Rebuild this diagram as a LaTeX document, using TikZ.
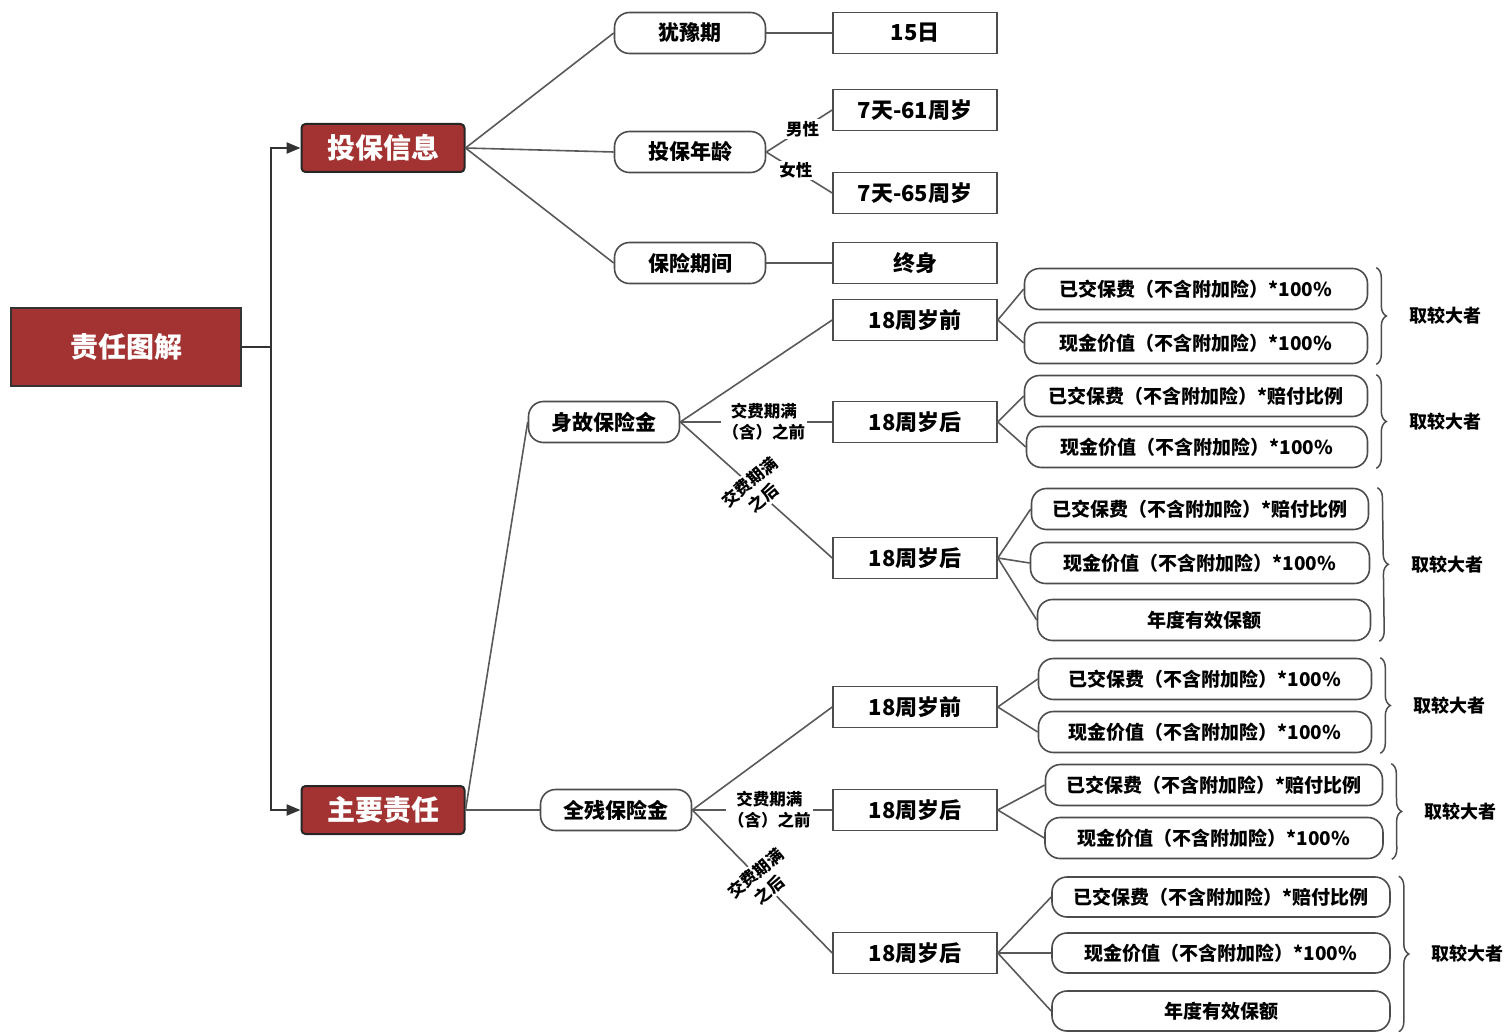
\documentclass[tikz,border=0pt]{standalone}
\usepackage{fontspec}
\setmainfont{Noto Sans CJK SC}
\usetikzlibrary{arrows.meta,decorations.pathreplacing}

\definecolor{duered}{RGB}{163,51,51}
\newcommand{\paidfee}{已交保费（不含附加险）}
\newcommand{\cashval}{现金价值（不含附加险）}

\begin{document}
\begin{tikzpicture}[x=1pt, y=-1pt,
    conn/.style={draw=black!65, line width=1.6pt},
    root/.style={draw=black!80, line width=2pt, fill=duered, text=white,
        font=\fontsize{28}{30}\selectfont\bfseries, minimum width=230pt, minimum height=78pt},
    topic/.style={draw=black!85, line width=2pt, fill=duered, text=white, rounded corners=4pt,
        font=\fontsize{28}{30}\selectfont\bfseries, minimum width=163pt, minimum height=48pt},
    pill/.style={draw=black!70, line width=1.6pt, fill=white, rounded corners=15pt,
        font=\fontsize{21}{23}\selectfont\bfseries, minimum width=151pt, minimum height=41pt},
    leaf/.style={draw=black!70, line width=1.6pt, fill=white,
        font=\fontsize{22}{24}\selectfont\bfseries, minimum width=164pt, minimum height=41pt},
    opt/.style={draw=black!70, line width=1.6pt, fill=white, rounded corners=15pt,
        font=\fontsize{19}{21}\selectfont\bfseries, minimum width=340pt, minimum height=41pt},
    note/.style={fill=white, inner sep=2pt, align=center,
        font=\fontsize{16.5}{21}\selectfont\bfseries},
    pick/.style={font=\fontsize{18}{20}\selectfont\bfseries, inner sep=2pt},
    brace/.style={decorate, decoration={brace, amplitude=10pt}, draw=black!70, line width=1.5pt},
    arrow/.style={conn, line width=2.4pt, draw=black!80, -{Triangle[length=14pt, width=11pt]}}]
    \useasboundingbox (0,0) rectangle (1506,1032);

    % left side
    \node[root] (root) at (126,347) {责任图解};
    \node[topic] (info) at (383,148) {投保信息};
    \node[topic] (duty) at (383,810) {主要责任};
    \coordinate (fork) at (271,347);
    \draw[conn, line width=2.4pt, draw=black!80] (root.east) -- (fork);
    \draw[arrow] (fork) |- (info.west);
    \draw[arrow] (fork) |- (duty.west);

    % 投保信息
    \node[pill] (cool) at (690,33) {犹豫期};
    \node[pill] (age) at (690,152) {投保年龄};
    \node[pill] (term) at (690,263) {保险期间};
    \node[leaf] (coolv) at (915,33) {15日};
    \node[leaf] (male) at (915,110) {7天-61周岁};
    \node[leaf] (female) at (915,193) {7天-65周岁};
    \node[leaf] (termv) at (915,263) {终身};
    \foreach \b in {cool,age,term} \draw[conn] (info.east) -- (\b.west);
    \draw[conn] (cool.east) -- (coolv.west);
    \draw[conn] (term.east) -- (termv.west);
    \draw[conn] (age.east) -- node[note, pos=0.55] (mlab) {男性} (male.west);
    \draw[conn] (age.east) -- node[note, pos=0.45] (flab) {女性} (female.west);

    % 主要责任
    \node[pill] (death) at (604,422) {身故保险金};
    \node[pill] (disab) at (616,810) {全残保险金};
    \draw[conn] (duty.east) -- (death.west);
    \draw[conn] (duty.east) -- (disab.west);

    \node[leaf] (dA) at (915,320) {18周岁前};
    \node[leaf] (dB) at (915,422) {18周岁后};
    \node[leaf] (dC) at (915,558) {18周岁后};
    \node[leaf] (sA) at (915,707) {18周岁前};
    \node[leaf] (sB) at (915,810) {18周岁后};
    \node[leaf] (sC) at (915,953) {18周岁后};
    \foreach \p/\k in {death/d, disab/s} {
        \draw[conn] (\p.east) -- (\k A.west);
        \draw[conn] (\p.east) -- node[note, pos=0.55] (\k before) {交费期满\\（含）之前} (\k B.west);
        \draw[conn] (\p.east) -- node[note, rotate=40] (\k after) {交费期满\\之后} (\k C.west);
    }

    % 身故保险金
    \node[opt, minimum width=343pt] (dA1) at (1196,289) {\paidfee*100\%};
    \node[opt, minimum width=343pt] (dA2) at (1196,343) {\cashval*100\%};
    \node[opt, minimum width=343pt] (dB1) at (1196,396) {\paidfee*赔付比例};
    \node[opt, minimum width=341pt] (dB2) at (1197,447) {\cashval*100\%};
    \node[opt, minimum width=337pt] (dC1) at (1200,509) {\paidfee*赔付比例};
    \node[opt, minimum width=339pt] (dC2) at (1200,563) {\cashval*100\%};
    \node[opt, minimum width=333pt] (dC3) at (1204,620) {年度有效保额};

    % 全残保险金
    \node[opt, minimum width=333pt] (sA1) at (1205,679) {\paidfee*100\%};
    \node[opt, minimum width=333pt] (sA2) at (1205,732) {\cashval*100\%};
    \node[opt, minimum width=337pt] (sB1) at (1214,785) {\paidfee*赔付比例};
    \node[opt, minimum width=338pt] (sB2) at (1214,838) {\cashval*100\%};
    \node[opt, minimum width=338pt, minimum height=40pt] (sC1) at (1221,897) {\paidfee*赔付比例};
    \node[opt, minimum width=338pt, minimum height=40pt] (sC2) at (1221,953) {\cashval*100\%};
    \node[opt, minimum width=338pt, minimum height=40pt] (sC3) at (1221,1011) {年度有效保额};

    \foreach \k in {dA,dB,sA,sB} \foreach \i in {1,2} \draw[conn] (\k.east) -- (\k\i.west);
    \foreach \k in {dC,sC} \foreach \i in {1,2,3} \draw[conn] (\k.east) -- (\k\i.west);

    % 取较大者
    \foreach \a/\b/\c in {dA1/dA2/pA, dB1/dB2/pB, dC1/dC3/pC, sA1/sA2/pD, sB1/sB2/pE, sC1/sC3/pF}
        \draw[brace] ([xshift=8pt]\a.north east) -- ([xshift=8pt]\b.south east)
            node[pick, midway, right=30pt] (\c) {取较大者};
\end{tikzpicture}
\end{document}
